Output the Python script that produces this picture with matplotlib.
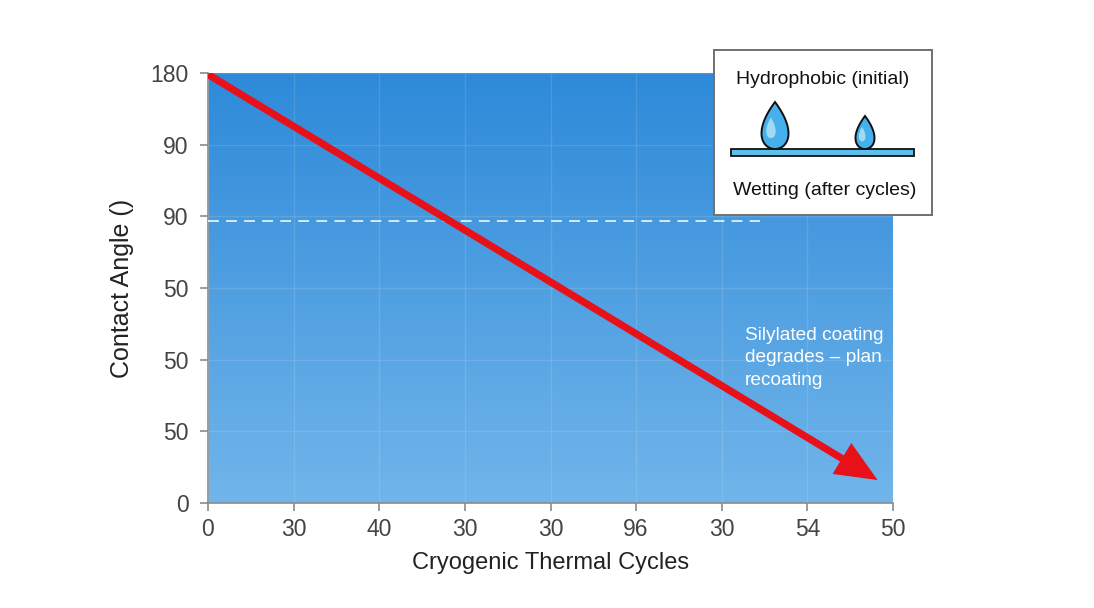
import matplotlib.pyplot as plt
import numpy as np
from matplotlib.colors import LinearSegmentedColormap
from matplotlib.patches import Rectangle, Polygon, FancyArrowPatch

plt.rcParams['font.family'] = ['Liberation Sans', 'DejaVu Sans']

# tick labels as printed on the chart (positions are just 0..n)
x_labels = ["0", "30", "40", "30", "30", "96", "30", "54", "50"]
y_labels = ["0", "50", "50", "50", "90", "90", "180"]

# trend arrow start / end (in tick-index units)
trend_x = [0.0, 7.82]
trend_y = [5.98, 0.32]

# dashed reference line
ref_y = 3.93
ref_x = [0.0, 6.45]

note_text = "Silylated coating\ndegrades \u2013 plan\nrecoating"

fig = plt.figure(figsize=(10.94, 6.08), dpi=100)
ax = fig.add_axes([208/1094, 1-503/608, 685/1094, 430/608])

xmax = len(x_labels) - 1
ymax = len(y_labels) - 1
ax.set_xlim(0, xmax)
ax.set_ylim(0, ymax)

# vertical gradient background
cmap = LinearSegmentedColormap.from_list("bg", ["#71b5ea", "#2e8ad9"])
grad = np.linspace(0, 1, 256).reshape(-1, 1)
ax.imshow(grad, cmap=cmap, aspect="auto", origin="lower",
          extent=[0, xmax, 0, ymax], zorder=0)

ax.set_xticks(range(len(x_labels)))
ax.set_xticklabels(x_labels)
ax.set_yticks(range(len(y_labels)))
ax.set_yticklabels(y_labels)
ax.grid(True, color="white", alpha=0.12, linewidth=1)
ax.set_axisbelow(False)

for s in ["top", "right"]:
    ax.spines[s].set_visible(False)
for s in ["left", "bottom"]:
    ax.spines[s].set_color("#8a8a8a")
    ax.spines[s].set_linewidth(1.2)
ax.tick_params(colors="#8a8a8a", labelcolor="#444444", labelsize=16.5,
               length=6, width=1.2)
ax.tick_params(axis="y", pad=8)
ax.tick_params(axis="x", pad=5)

ax.set_xlabel("Cryogenic Thermal Cycles", fontsize=17, color="#222222", labelpad=8)
ax.set_ylabel("Contact Angle ()", fontsize=18, color="#222222", labelpad=12)

ax.plot(ref_x, [ref_y, ref_y], color="white", lw=1.3, ls=(0, (6, 4)), alpha=0.85, zorder=3)

arrow = FancyArrowPatch((trend_x[0], trend_y[0]), (trend_x[1], trend_y[1]),
                        arrowstyle="simple,head_length=1.5,head_width=1.3,tail_width=0.26",
                        mutation_scale=20, color="#e8111a", lw=0,
                        shrinkA=0, shrinkB=0, zorder=4)
ax.add_patch(arrow)

ax.text(6.27, 2.46, note_text, color="white", fontsize=13.8, va="top",
        ha="left", linespacing=1.42, zorder=5)

# legend box with droplets
lg = fig.add_axes([714/1094, 1-215/608, 218/1094, 165/608])
lg.set_xlim(0, 218)
lg.set_ylim(165, 0)
lg.set_xticks([])
lg.set_yticks([])
for s in lg.spines.values():
    s.set_color("#707070")
    s.set_linewidth(1.4)
lg.text(109, 29, "Hydrophobic (initial)", ha="center", va="center", fontsize=14, color="#111111")
lg.text(111, 140, "Wetting (after cycles)", ha="center", va="center", fontsize=14, color="#111111")
lg.add_patch(Rectangle((17, 99), 183, 7, facecolor="#5cc0ea", edgecolor="#111111", lw=1.3))

t = np.linspace(0, 2 * np.pi, 120)
tx = np.sin(t) * np.sin(t / 2) / 0.77
ty = np.cos(t)
for cx, w, h in [(61, 13.5, 47), (151, 9.5, 33)]:
    base = 99
    pts = np.column_stack([cx + w * tx, base - h / 2 - (h / 2) * ty])
    lg.add_patch(Polygon(pts, closed=True, facecolor="#45b0ec", edgecolor="#111111", lw=1.4))
    hl = np.column_stack([cx - w * 0.3 + w * 0.35 * tx, base - h * 0.45 - h * 0.22 * ty])
    lg.add_patch(Polygon(hl, closed=True, facecolor="#9fdaf6", edgecolor="none"))

fig.savefig("out.png", dpi=100)
